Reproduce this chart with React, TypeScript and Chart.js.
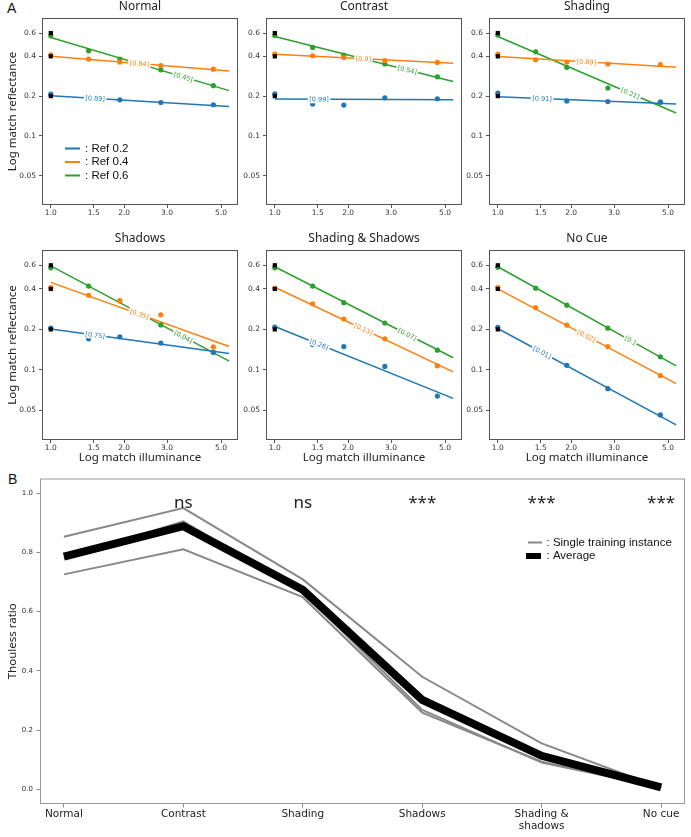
import React, { useEffect, useRef } from 'react';
import { Chart, registerables } from 'chart.js';

Chart.register(...registerables);
Chart.defaults.font.family = 'DejaVu Sans';

// ---------- Panel A: log-log matching curves ----------
const illuminance = [1, 1.43, 1.92, 2.83, 4.65];
const fitSpan = [1, 5.4];
const refLevels = [0.2, 0.4, 0.6];
const refNames = [': Ref 0.2', ': Ref 0.4', ': Ref 0.6'];
const refColors = ['#1f77b4', '#ff7f0e', '#2ca02c'];
const tagPositions = [1.52, 2.31, 3.5];
const illumTicks = [1, 1.5, 2, 3, 5];
const illumTickLabels = ['1.0', '1.5', '2.0', '3.0', '5.0'];
const reflTicks = [0.05, 0.1, 0.2, 0.4, 0.6];
const reflTickLabels = ['0.05', '0.1', '0.2', '0.4', '0.6'];

const normalRef02 = [0.207, 0.193, 0.1875, 0.179, 0.172];
const normalRef04 = [0.41, 0.381, 0.362, 0.341, 0.32];
const normalRef06 = [0.572, 0.44, 0.381, 0.316, 0.24];
const normalFits = [[0.201, 0.167], [0.4, 0.31], [0.556, 0.22]];
const normalTags = ['[0.89]', '[0.84]', '[0.45]'];

const contrastRef02 = [0.208, 0.174, 0.171, 0.194, 0.191];
const contrastRef04 = [0.415, 0.404, 0.392, 0.372, 0.36];
const contrastRef06 = [0.575, 0.467, 0.408, 0.35, 0.28];
const contrastFits = [[0.19, 0.188], [0.415, 0.354], [0.565, 0.258]];
const contrastTags = ['[0.99]', '[0.9]', '[0.54]'];

const shadingRef02 = [0.211, 0.19, 0.184, 0.182, 0.18];
const shadingRef04 = [0.415, 0.377, 0.362, 0.35, 0.347];
const shadingRef06 = [0.58, 0.433, 0.33, 0.23, 0.18];
const shadingFits = [[0.198, 0.174], [0.398, 0.33], [0.565, 0.149]];
const shadingTags = ['[0.91]', '[0.89]', '[0.21]'];

const shadowsRef02 = [0.204, 0.17, 0.176, 0.158, 0.135];
const shadowsRef04 = [0.409, 0.359, 0.326, 0.257, 0.148];
const shadowsRef06 = [0.575, 0.42, 0.326, 0.216, 0.135];
const shadowsFits = [[0.201, 0.132], [0.448, 0.149], [0.594, 0.116]];
const shadowsTags = ['[0.75]', '[0.35]', '[0.04]'];

const bothRef02 = [0.208, 0.154, 0.149, 0.106, 0.0637];
const bothRef04 = [0.405, 0.31, 0.239, 0.17, 0.107];
const bothRef06 = [0.575, 0.42, 0.316, 0.223, 0.14];
const bothFits = [[0.21, 0.0613], [0.412, 0.0966], [0.585, 0.123]];
const bothTags = ['[0.26]', '[0.13]', '[0.07]'];

const noCueRef02 = [0.207, 0.145, 0.108, 0.0723, 0.0461];
const noCueRef04 = [0.409, 0.29, 0.215, 0.149, 0.0907];
const noCueRef06 = [0.58, 0.405, 0.303, 0.204, 0.125];
const noCueFits = [[0.203, 0.0389], [0.4, 0.0788], [0.585, 0.107]];
const noCueTags = ['[0.01]', '[0.02]', '[0.]'];

const panels = [
  { title: 'Normal', series: [normalRef02, normalRef04, normalRef06], fits: normalFits, tags: normalTags, col: 0, row: 0 },
  { title: 'Contrast', series: [contrastRef02, contrastRef04, contrastRef06], fits: contrastFits, tags: contrastTags, col: 1, row: 0 },
  { title: 'Shading', series: [shadingRef02, shadingRef04, shadingRef06], fits: shadingFits, tags: shadingTags, col: 2, row: 0 },
  { title: 'Shadows', series: [shadowsRef02, shadowsRef04, shadowsRef06], fits: shadowsFits, tags: shadowsTags, col: 0, row: 1 },
  { title: 'Shading & Shadows', series: [bothRef02, bothRef04, bothRef06], fits: bothFits, tags: bothTags, col: 1, row: 1 },
  { title: 'No Cue', series: [noCueRef02, noCueRef04, noCueRef06], fits: noCueFits, tags: noCueTags, col: 2, row: 1 },
];

// ---------- Panel B: Thouless ratio per cue condition ----------
const cueLabels = ['Normal', 'Contrast', 'Shading', 'Shadows', 'Shading &\nshadows', 'No cue'];
const run1 = [0.853, 0.95, 0.709, 0.38, 0.155, 0.005];
const run2 = [0.726, 0.811, 0.649, 0.259, 0.093, 0.006];
const run3 = [0.78, 0.905, 0.665, 0.268, 0.09, 0.006];
const average = [0.786, 0.889, 0.674, 0.302, 0.113, 0.006];
const significance = ['', 'ns', 'ns', '***', '***', '***'];
const sigLevel = 0.95;
const ratioTicks = [0, 0.2, 0.4, 0.6, 0.8, 1.0];
const ratioTickLabels = ['0.0', '0.2', '0.4', '0.6', '0.8', '1.0'];

// plot-box geometry of the six small panels
const colEdges = [[42, 238], [266, 462], [489, 685]];
const rowEdges = [[18, 205], [250, 440]];

const tickFont = { family: 'DejaVu Sans', size: 7.5 };
const labelFont = { family: 'Noto Sans', size: 11.5 };

function LogPanel({ title, series, fits, tags, col, row }: any) {
  const canvasRef = useRef<HTMLCanvasElement | null>(null);
  const [l, r] = colEdges[col];
  const [t, b] = rowEdges[row];
  const padL = col === 0 ? 42 : 30;
  const padT = 18;
  const padR = 4;
  const padB = row === 1 ? 26 : 16;
  const w = padL + (r - l) + padR;
  const h = padT + (b - t) + padB;

  useEffect(() => {
    const canvas = canvasRef.current as HTMLCanvasElement;
    const datasets: any[] = [];
    datasets.push({
      data: refLevels.map((y) => ({ x: 1, y })),
      pointStyle: 'rect', pointRadius: 3, pointBorderWidth: 0,
      backgroundColor: '#000', borderColor: '#000', order: 0,
    });
    series.forEach((vals: number[], i: number) => {
      datasets.push({
        data: illuminance.map((x, j) => ({ x, y: vals[j] })),
        pointRadius: 2.6, pointBorderWidth: 0,
        backgroundColor: refColors[i], borderColor: refColors[i], order: 1,
      });
    });
    fits.forEach((f: number[], i: number) => {
      datasets.push({
        data: fitSpan.map((x, j) => ({ x, y: f[j] })),
        showLine: true, pointRadius: 0, borderWidth: 1.5,
        borderColor: refColors[i], backgroundColor: refColors[i], order: 2,
      });
    });

    const decor = {
      id: 'panelDecor',
      afterDatasetsDraw(chart: any) {
        const { ctx, scales } = chart;
        const xs = scales.x;
        const ys = scales.y;
        fits.forEach((f: number[], i: number) => {
          const slope = Math.log(f[1] / f[0]) / Math.log(fitSpan[1] / fitSpan[0]);
          const xv = tagPositions[i];
          const yv = f[0] * Math.pow(xv / fitSpan[0], slope);
          const x0 = xs.getPixelForValue(fitSpan[0]);
          const y0 = ys.getPixelForValue(f[0]);
          const x1 = xs.getPixelForValue(fitSpan[1]);
          const y1 = ys.getPixelForValue(f[1]);
          const angle = Math.atan2(y1 - y0, x1 - x0);
          ctx.save();
          ctx.translate(xs.getPixelForValue(xv), ys.getPixelForValue(yv));
          ctx.rotate(angle);
          ctx.font = '6.5px "DejaVu Sans"';
          const tw = ctx.measureText(tags[i]).width;
          ctx.fillStyle = '#fff';
          ctx.fillRect(-tw / 2 - 1.5, -4, tw + 3, 8);
          ctx.fillStyle = refColors[i];
          ctx.textAlign = 'center';
          ctx.textBaseline = 'middle';
          ctx.fillText(tags[i], 0, 0.5);
          ctx.restore();
        });
      },
      afterDraw(chart: any) {
        const { ctx, chartArea: a } = chart;
        ctx.save();
        ctx.strokeStyle = '#555';
        ctx.lineWidth = 1;
        ctx.strokeRect(a.left + 0.5, a.top + 0.5, a.right - a.left - 1, a.bottom - a.top - 1);
        ctx.fillStyle = '#222';
        ctx.font = '12px "Noto Sans"';
        ctx.textAlign = 'center';
        ctx.textBaseline = 'middle';
        ctx.fillText(title, (a.left + a.right) / 2, a.top - 11);
        if (col === 0 && row === 0) {
          refNames.forEach((name, i) => {
            const yy = a.top + 130.5 + i * 13.5;
            ctx.strokeStyle = refColors[i];
            ctx.lineWidth = 2;
            ctx.beginPath();
            ctx.moveTo(a.left + 23, yy);
            ctx.lineTo(a.left + 38, yy);
            ctx.stroke();
            ctx.fillStyle = '#111';
            ctx.font = '11.5px "Liberation Sans"';
            ctx.textAlign = 'left';
            ctx.textBaseline = 'middle';
            ctx.fillText(name, a.left + 43, yy);
          });
        }
        ctx.restore();
      },
    };

    const chart = new Chart(canvas, {
      type: 'scatter',
      data: { datasets },
      options: {
        animation: false,
        responsive: false,
        devicePixelRatio: 1,
        layout: { padding: { left: 0, top: padT, right: padR, bottom: 0 } },
        plugins: { legend: { display: false }, tooltip: { enabled: false } },
        scales: {
          x: {
            type: 'logarithmic', min: 0.92, max: 5.87, bounds: 'data',
            afterBuildTicks: (s: any) => { s.ticks = illumTicks.map((value) => ({ value })); },
            afterFit: (s: any) => { s.height = padB; },
            ticks: {
              autoSkip: false, maxRotation: 0, minRotation: 0, padding: 0.5,
              font: tickFont, color: '#333',
              callback: (_v: any, i: number) => illumTickLabels[i],
            },
            grid: { drawOnChartArea: false, tickLength: 3, color: '#555' },
            border: { display: false },
            title: {
              display: row === 1, text: 'Log match illuminance', font: labelFont,
              color: '#222', padding: { top: 0, bottom: 1.3 },
            },
          },
          y: {
            type: 'logarithmic', min: 0.03, max: 0.78, bounds: 'data',
            afterBuildTicks: (s: any) => { s.ticks = reflTicks.map((value) => ({ value })); },
            afterFit: (s: any) => { s.width = padL; },
            ticks: {
              autoSkip: false, padding: 3, font: tickFont, color: '#333',
              callback: (_v: any, i: number) => reflTickLabels[i],
            },
            grid: { drawOnChartArea: false, tickLength: 3, color: '#555' },
            border: { display: false },
            title: {
              display: col === 0, text: 'Log match reflectance', font: labelFont,
              color: '#222', padding: { top: 6, bottom: 0 },
            },
          },
        },
      } as any,
      plugins: [decor],
    });
    return () => chart.destroy();
  }, []);

  return (
    <canvas
      ref={canvasRef}
      width={w}
      height={h}
      style={{ position: 'absolute', left: l - padL, top: t - padT, width: w, height: h }}
    />
  );
}

function RatioPanel() {
  const canvasRef = useRef<HTMLCanvasElement | null>(null);
  const top = 470;
  const w = 691;
  const h = 367;

  useEffect(() => {
    const canvas = canvasRef.current as HTMLCanvasElement;
    const toPoints = (vals: number[]) => vals.map((y, x) => ({ x, y }));
    const runStyle = { showLine: true, pointRadius: 0, borderWidth: 2, borderColor: '#888', backgroundColor: '#888', order: 1 };

    const decor = {
      id: 'ratioDecor',
      afterDraw(chart: any) {
        const { ctx, chartArea: a, scales } = chart;
        ctx.save();
        ctx.strokeStyle = '#999';
        ctx.lineWidth = 1;
        ctx.strokeRect(a.left + 0.5, a.top + 0.5, a.right - a.left - 1, a.bottom - a.top - 1);
        ctx.fillStyle = '#222';
        ctx.font = '17px "Noto Sans"';
        ctx.textAlign = 'center';
        ctx.textBaseline = 'alphabetic';
        significance.forEach((s, i) => {
          if (s) ctx.fillText(s, scales.x.getPixelForValue(i), scales.y.getPixelForValue(sigLevel));
        });
        // legend
        const lx = a.left + 488;
        const ly = a.top + 64;
        ctx.strokeStyle = '#888';
        ctx.lineWidth = 2;
        ctx.beginPath();
        ctx.moveTo(lx, ly);
        ctx.lineTo(lx + 14, ly);
        ctx.stroke();
        ctx.fillStyle = '#000';
        ctx.fillRect(lx - 2, ly + 10.5, 15, 6);
        ctx.fillStyle = '#111';
        ctx.font = '11.5px "Liberation Sans"';
        ctx.textAlign = 'left';
        ctx.textBaseline = 'middle';
        ctx.fillText(': Single training instance', lx + 18.5, ly);
        ctx.fillText(': Average', lx + 18.5, ly + 13.5);
        ctx.restore();
      },
    };

    const chart = new Chart(canvas, {
      type: 'scatter',
      data: {
        datasets: [
          { data: toPoints(average), showLine: true, pointRadius: 0, borderWidth: 8, borderColor: '#000', backgroundColor: '#000', order: 0 },
          { data: toPoints(run1), ...runStyle },
          { data: toPoints(run2), ...runStyle },
          { data: toPoints(run3), ...runStyle },
        ],
      },
      options: {
        animation: false,
        responsive: false,
        devicePixelRatio: 1,
        layout: { padding: { left: 0, top: 8.5, right: 6, bottom: 0 } },
        plugins: { legend: { display: false }, tooltip: { enabled: false } },
        scales: {
          x: {
            type: 'linear', min: -0.2, max: 5.2, bounds: 'data',
            afterBuildTicks: (s: any) => { s.ticks = cueLabels.map((_c, i) => ({ value: i })); },
            afterFit: (s: any) => { s.height = 33; },
            ticks: {
              autoSkip: false, maxRotation: 0, minRotation: 0, padding: 0,
              font: { family: 'DejaVu Sans', size: 10.5, lineHeight: 1.2 }, color: '#222',
              callback: (_v: any, i: number) => cueLabels[i].split('\n'),
            },
            grid: { drawOnChartArea: false, tickLength: 3.5, color: '#888' },
            border: { display: false },
          },
          y: {
            type: 'linear', min: -0.05, max: 1.05, bounds: 'data',
            afterBuildTicks: (s: any) => { s.ticks = ratioTicks.map((value) => ({ value })); },
            afterFit: (s: any) => { s.width = 40; },
            ticks: {
              autoSkip: false, padding: 3.5, font: { family: 'DejaVu Sans', size: 7 }, color: '#333',
              callback: (_v: any, i: number) => ratioTickLabels[i],
            },
            grid: { drawOnChartArea: false, tickLength: 3.5, color: '#888' },
            border: { display: false },
            title: {
              display: true, text: 'Thouless ratio', font: labelFont,
              color: '#222', padding: { top: 6, bottom: 0 },
            },
          },
        },
      } as any,
      plugins: [decor],
    });
    return () => chart.destroy();
  }, []);

  return (
    <canvas
      ref={canvasRef}
      width={w}
      height={h}
      style={{ position: 'absolute', left: 0, top, width: w, height: h }}
    />
  );
}

const letterStyle: React.CSSProperties = {
  position: 'absolute',
  fontFamily: '"Liberation Sans", Arial, sans-serif',
  fontSize: 14,
  lineHeight: '14px',
  color: '#111',
};

export default function App() {
  return (
    <div style={{ position: 'absolute', left: 0, top: 0, width: 691, height: 837, background: '#fff', overflow: 'hidden' }}>
      <div style={{ ...letterStyle, left: 7, top: 1 }}>A</div>
      <div style={{ ...letterStyle, left: 8, top: 472 }}>B</div>
      {panels.map((p) => (
        <LogPanel key={p.title} {...p} />
      ))}
      <RatioPanel />
    </div>
  );
}
